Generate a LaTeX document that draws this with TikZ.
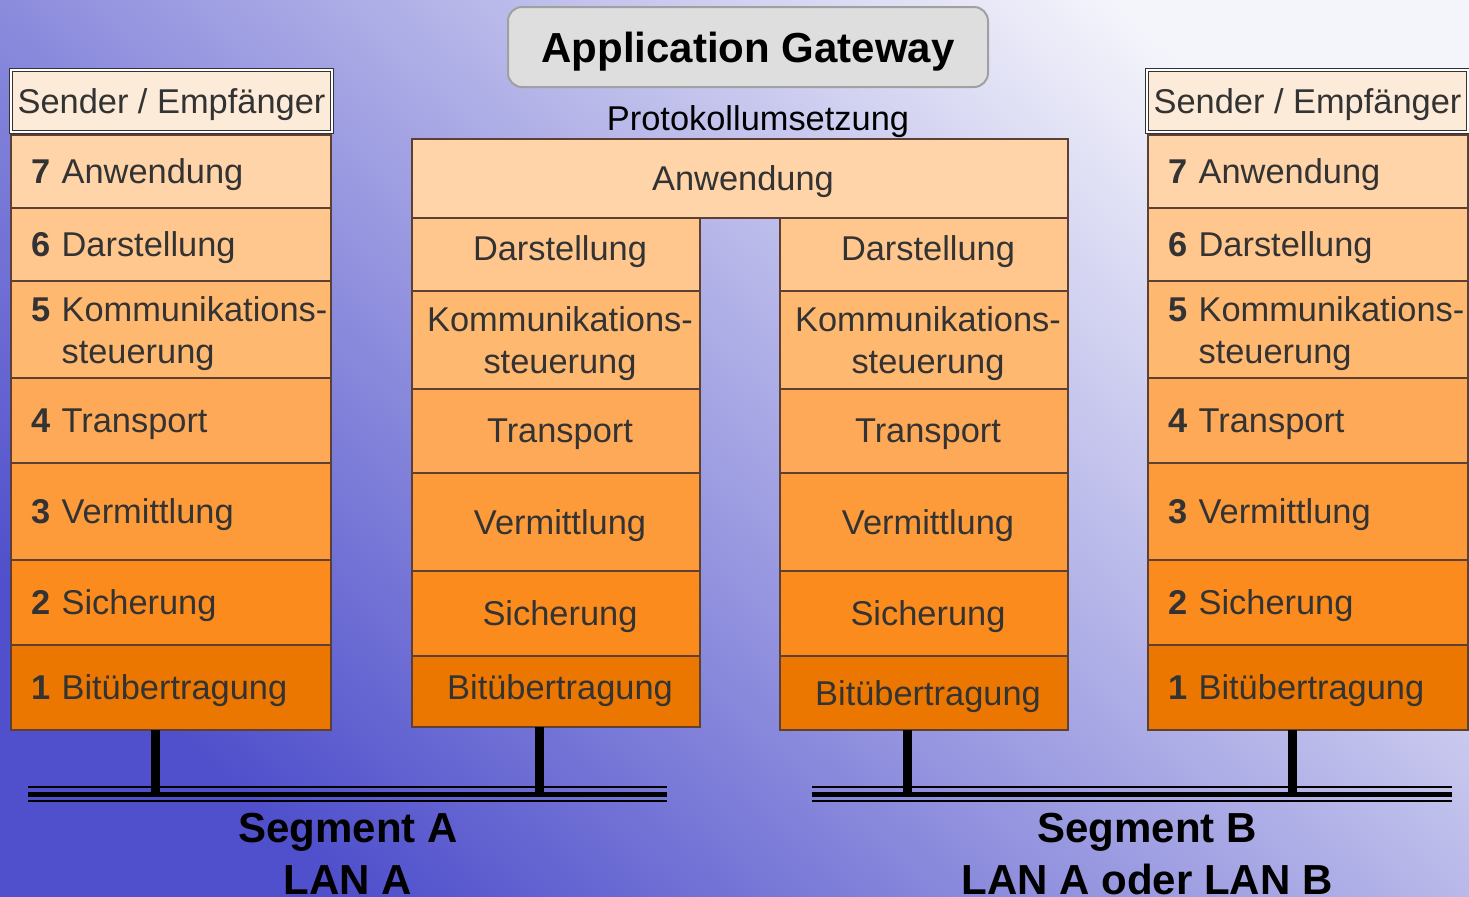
\documentclass[tikz,border=0pt]{standalone}
\usepackage{fontspec}
\setmainfont{Liberation Sans}
\definecolor{bgLow}{HTML}{5050CC}
\definecolor{bgMid}{HTML}{B4B4E6}
\definecolor{bgHigh}{HTML}{F4F4FB}
\definecolor{hdrfill}{HTML}{FDEBD9}
\definecolor{cA}{HTML}{FFD4A8}
\definecolor{cB}{HTML}{FFC78E}
\definecolor{cC}{HTML}{FFB870}
\definecolor{cD}{HTML}{FEA957}
\definecolor{cE}{HTML}{FD9B3A}
\definecolor{cF}{HTML}{FB8B1C}
\definecolor{cG}{HTML}{EC7700}
\definecolor{brd}{HTML}{5C4033}
\definecolor{txt}{HTML}{333333}
\definecolor{titlefill}{HTML}{DEDEDE}
\definecolor{titlebrd}{HTML}{A0A0A0}
\newcommand{\pad}{\hspace*{10pt}}
\begin{document}
\begin{tikzpicture}[x=0.5pt,y=-0.5pt,
  layerfont/.style={font=\fontsize{17.2}{21}\selectfont, text=txt},
  sidebox/.style={draw=brd, line width=0.75pt, inner sep=0pt, outer sep=0pt,
    minimum width=160pt, text width=160pt, align=left, text depth=0pt, layerfont},
  midbox/.style={draw=brd, line width=0.75pt, inner sep=0pt, outer sep=0pt,
    minimum width=144pt, align=center, text depth=0pt, layerfont},
  hdrbox/.style={draw=black!80, line width=0.5pt, double=white, double distance=0.6pt,
    fill=hdrfill, inner sep=0pt, outer sep=0pt, minimum width=160.5pt, minimum height=31pt,
    text depth=0pt, layerfont},
  bus/.style={draw=black},
  tap/.style={draw=black, line width=4.2pt},
  segtext/.style={font=\fontsize{21}{25}\bfseries, text=black, inner sep=0pt, anchor=base}
]
\useasboundingbox (0,0) rectangle (1469,896);
\shade[shading=axis, bottom color=bgLow, middle color=bgMid, top color=bgHigh, shading angle=-42]
  (0,0) rectangle (1469,896);

% title
\node[draw=titlebrd, line width=1pt, fill=titlefill, rounded corners=7pt,
  minimum width=240pt, minimum height=40pt, inner sep=0pt, text depth=0pt,
  font=\fontsize{21}{25}\bfseries] (title) at (748,47) {Application Gateway};
\node[font=\fontsize{17.2}{21}\selectfont, inner sep=0pt, text depth=0pt] (proto) at (758,118) {Protokollumsetzung};

% left stack
\node[hdrbox] (hL) at (171.5,101) {Sender / Empfänger};
\node[sidebox, fill=cA, minimum height=36.5pt] (L7) at (171,171.5) {\pad\textbf{7} Anwendung};
\node[sidebox, fill=cB, minimum height=36.5pt] (L6) at (171,244.5) {\pad\textbf{6} Darstellung};
\node[sidebox, fill=cC, minimum height=48.5pt, text depth=20pt] (L5) at (171,329.5) {\pad\textbf{5} Kommunikations-\\\pad\hphantom{\textbf{5} }steuerung};
\node[sidebox, fill=cD, minimum height=42.5pt] (L4) at (171,420.5) {\pad\textbf{4} Transport};
\node[sidebox, fill=cE, minimum height=48.5pt] (L3) at (171,511.5) {\pad\textbf{3} Vermittlung};
\node[sidebox, fill=cF, minimum height=42.5pt] (L2) at (171,602.5) {\pad\textbf{2} Sicherung};
\node[sidebox, fill=cG, minimum height=42.5pt] (L1) at (171,687.5) {\pad\textbf{1} Bitübertragung};

% right stack
\node[hdrbox] (hR) at (1307.5,101) {Sender / Empfänger};
\node[sidebox, fill=cA, minimum height=36.5pt] (R7) at (1308,171.5) {\pad\textbf{7} Anwendung};
\node[sidebox, fill=cB, minimum height=36.5pt] (R6) at (1308,244.5) {\pad\textbf{6} Darstellung};
\node[sidebox, fill=cC, minimum height=48.5pt, text depth=20pt] (R5) at (1308,329.5) {\pad\textbf{5} Kommunikations-\\\pad\hphantom{\textbf{5} }steuerung};
\node[sidebox, fill=cD, minimum height=42.5pt] (R4) at (1308,420.5) {\pad\textbf{4} Transport};
\node[sidebox, fill=cE, minimum height=48.5pt] (R3) at (1308,511.5) {\pad\textbf{3} Vermittlung};
\node[sidebox, fill=cF, minimum height=42.5pt] (R2) at (1308,602.5) {\pad\textbf{2} Sicherung};
\node[sidebox, fill=cG, minimum height=42.5pt] (R1) at (1308,687.5) {\pad\textbf{1} Bitübertragung};

% gateway
\node[midbox, fill=cA, minimum width=328pt, minimum height=39.5pt] (GA) at (740,178.5) {\hspace*{3pt}Anwendung};
\node[midbox, fill=cB, minimum height=36.5pt] (GD1) at (556,254.5) {\raisebox{6.2pt}{\hspace*{4pt}Darstellung}};
\node[midbox, fill=cC, minimum height=49pt] (GK1) at (556,340) {\hspace*{4pt}Kommunikations-\\\hspace*{4pt}steuerung};
\node[midbox, fill=cD, minimum height=42pt] (GT1) at (556,431) {\hspace*{4pt}Transport};
\node[midbox, fill=cE, minimum height=49pt] (GV1) at (556,522) {\hspace*{4pt}Vermittlung};
\node[midbox, fill=cF, minimum height=42.5pt] (GS1) at (556,613.5) {\hspace*{4pt}Sicherung};
\node[midbox, fill=cG, minimum height=35.5pt] (GB1) at (556,691.5) {\raisebox{4pt}{\hspace*{4pt}Bitübertragung}};

\node[midbox, fill=cB, minimum height=36.5pt] (GD2) at (924,254.5) {\raisebox{6.2pt}{\hspace*{4pt}Darstellung}};
\node[midbox, fill=cC, minimum height=49pt] (GK2) at (924,340) {\hspace*{4pt}Kommunikations-\\\hspace*{4pt}steuerung};
\node[midbox, fill=cD, minimum height=42pt] (GT2) at (924,431) {\hspace*{4pt}Transport};
\node[midbox, fill=cE, minimum height=49pt] (GV2) at (924,522) {\hspace*{4pt}Vermittlung};
\node[midbox, fill=cF, minimum height=42.5pt] (GS2) at (924,613.5) {\hspace*{4pt}Sicherung};
\node[midbox, fill=cG, minimum height=37pt] (GB2) at (924,693) {\hspace*{4pt}Bitübertragung};

% buses
\coordinate (aW) at (28,0); \coordinate (aE) at (667,0);
\coordinate (bW) at (812,0); \coordinate (bE) at (1452,0);
\foreach \yy/\ww in {786.5/1pt, 794.5/2.6pt, 801/1pt}{
  \draw[bus, line width=\ww] (aW |- 0,\yy) -- (aE |- 0,\yy);
  \draw[bus, line width=\ww] (bW |- 0,\yy) -- (bE |- 0,\yy);
}
\coordinate (tapL) at (155.5,794.5);
\coordinate (tapGL) at (539.5,794.5);
\coordinate (tapGR) at (907.5,794.5);
\coordinate (tapR) at (1292.5,794.5);
\draw[tap] (tapL |- L1.south) -- (tapL);
\draw[tap] (tapGL |- GB1.south) -- (tapGL);
\draw[tap] (tapGR |- GB2.south) -- (tapGR);
\draw[tap] (tapR |- R1.south) -- (tapR);

% labels
\node[segtext] (segA) at (348,842) {Segment A};
\node[segtext] (lanA) at (348,894) {LAN A};
\node[segtext] (segB) at (1147,842) {Segment B};
\node[segtext] (lanB) at (1147,894) {LAN A oder LAN B};
\end{tikzpicture}
\end{document}
